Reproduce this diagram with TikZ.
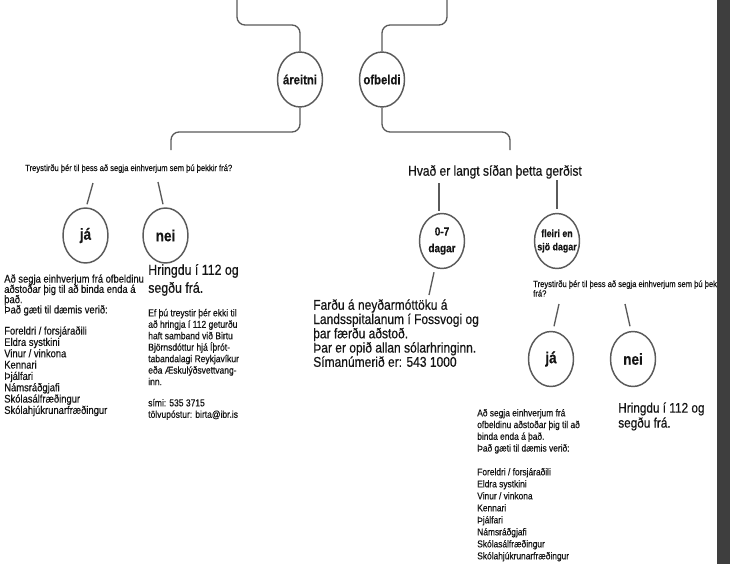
\documentclass[tikz,border=0pt]{standalone}
\usepackage{fontspec}
\setmainfont{Liberation Sans}[FakeStretch=0.85,FakeBold=0.4]
\usetikzlibrary{shapes.geometric}
\definecolor{linecol}{RGB}{90,90,90}
\definecolor{txtcol}{RGB}{20,20,20}
\definecolor{barcol}{RGB}{62,62,62}
\begin{document}
\lineskiplimit=-20pt
\begin{tikzpicture}[x=0.75pt,y=-0.75pt,
  bubble/.style={ellipse,draw=linecol,line width=1.1pt,minimum width=33.75pt,minimum height=41.25pt,inner sep=0pt},
  conn/.style={draw=linecol,line width=1pt},
  curvy/.style={conn,rounded corners=6pt},
  txt/.style={anchor=base west,inner sep=0pt,align=left,text=txtcol},
  bl/.style={font=\bfseries\fontsize{#1}{#1}\selectfont,text=txtcol,align=center,inner sep=0pt}
]
\useasboundingbox (0,0) rectangle (730,564);
\fill[white] (0,0) rectangle (730,564);

% top bubbles
\node[bubble,label={[bl=10]center:áreitni}] (areitni) at (300,79.5) {};
\node[bubble,label={[bl=10]center:ofbeldi}] (ofbeldi) at (382,79.5) {};
\coordinate (topL) at (237,0);
\coordinate (topR) at (447,0);
\coordinate (qLend) at (171,150);
\coordinate (hvEnd) at (510,150);
\draw[curvy] (topL) -- (237,25) -- (300,25) -- (areitni.north);
\draw[curvy] (topR) -- (447,25) -- (382,25) -- (ofbeldi.north);
\draw[curvy] (areitni.south) -- (300,132) -- (171,132) -- (qLend);
\draw[curvy] (ofbeldi.south) -- (382,132) -- (510,132) -- (hvEnd);

% left branch (multi-line nodes: base anchor = last line's baseline)
\node[txt,font=\fontsize{6.7}{7}\selectfont] (qL) at (25,171) {Treystirðu þér til þess að segja einhverjum sem þú þekkir frá?};
\node[bubble,label={[bl=12]center:já}] (jaL) at (85.5,235.5) {};
\node[bubble,label={[bl=12]center:nei}] (neiL) at (165.5,235.5) {};
\coordinate (qLa) at (93,183);
\coordinate (qLb) at (158,182);
\draw[conn] (qLa) -- ([shift={(1.5,-3)}]jaL.north);
\draw[conn] (qLb) -- ([shift={(-2.5,-3)}]neiL.north);

\node[txt,font=\fontsize{8.3}{7.7}\selectfont] (leftA) at (4,313.4) {Að segja einhverjum frá ofbeldinu\\aðstoðar þig til að binda enda á\\það.\\Það gæti til dæmis verið:};
\node[txt,font=\fontsize{8.3}{8.5}\selectfont] (leftB) at (4,413.9) {Foreldri / forsjáraðili\\Eldra systkini\\Vinur / vinkona\\Kennari\\Þjálfari\\Námsráðgjafi\\Skólasálfræðingur\\Skólahjúkrunarfræðingur};
\node[txt,font=\fontsize{10.9}{13.5}\selectfont] (hringL) at (148,292.8) {Hringdu í 112 og\\segðu frá.};
\node[txt,font=\fontsize{7.5}{8.6}\selectfont] (efL) at (148,385.1) {Ef þú treystir þér ekki til\\að hringja í 112 geturðu\\haft samband við Birtu\\Björnsdóttur hjá Íþrót-\\tabandalagi Reykjavíkur\\eða Æskulýðsvettvang-\\inn.};
\node[txt,font=\fontsize{7.5}{8.6}\selectfont] (simiL) at (148,417.8) {sími: 535 3715\\tölvupóstur: birta@ibr.is};

% right branch
\node[txt,anchor=base,font=\fontsize{10.6}{12}\selectfont] (hv) at (495,175.7) {Hvað er langt síðan þetta gerðist};
\node[bubble,label={[bl=8.8,font=\bfseries\fontsize{8.8}{12.5}\selectfont]center:0-7\\dagar}] (d07) at (442,241) {};
\node[bubble,label={[bl=8,font=\bfseries\fontsize{7.8}{10}\selectfont]center:fleiri en\\sjö dagar}] (dmore) at (557,241) {};
\coordinate (hvA) at (439,183);
\coordinate (hvB) at (557,180);
\draw[conn] (hvA) -- ([shift={(-3,-2)}]d07.north);
\draw[conn] (hvB) -- ([shift={(0,-4)}]dmore.north);
\coordinate (farTop) at (429,295);
\draw[conn] ([shift={(-8,3)}]d07.south) -- (farTop);
\node[txt,font=\fontsize{10.6}{10.7}\selectfont] (far) at (313,366.8) {Farðu á neyðarmóttöku á\\Landsspitalanum í Fossvogi og\\þar færðu aðstoð.\\Þar er opið allan sólarhringinn.\\Símanúmerið er: 543 1000};

\node[txt,font=\fontsize{6.7}{7.1}\selectfont] (qR) at (533,296.5) {Treystirðu þér til þess að segja einhverjum sem þú þekkir\\frá?};
\node[bubble,label={[bl=12]center:já}] (jaR) at (551,359) {};
\node[bubble,label={[bl=12]center:nei}] (neiR) at (633,359) {};
\coordinate (qRa) at (559,304);
\coordinate (qRb) at (625,304);
\draw[conn] (qRa) -- ([shift={(3,-4.5)}]jaR.north);
\draw[conn] (qRb) -- ([shift={(-3,-4.5)}]neiR.north);

\node[txt,font=\fontsize{7.4}{8.8}\selectfont] (rightA) at (477,451.5) {Að segja einhverjum frá\\ofbeldinu aðstoðar þig til að\\binda enda á það.\\Það gæti til dæmis verið:};
\node[txt,font=\fontsize{7.4}{9}\selectfont] (rightB) at (477,559.3) {Foreldri / forsjáraðili\\Eldra systkini\\Vinur / vinkona\\Kennari\\Þjálfari\\Námsráðgjafi\\Skólasálfræðingur\\Skólahjúkrunarfræðingur};
\node[txt,font=\fontsize{10.4}{11.25}\selectfont] (hringR) at (618,427.6) {Hringdu í 112 og\\segðu frá.};

% dark side bar
\fill[barcol] (717,0) rectangle (730,564);
\end{tikzpicture}
\end{document}
